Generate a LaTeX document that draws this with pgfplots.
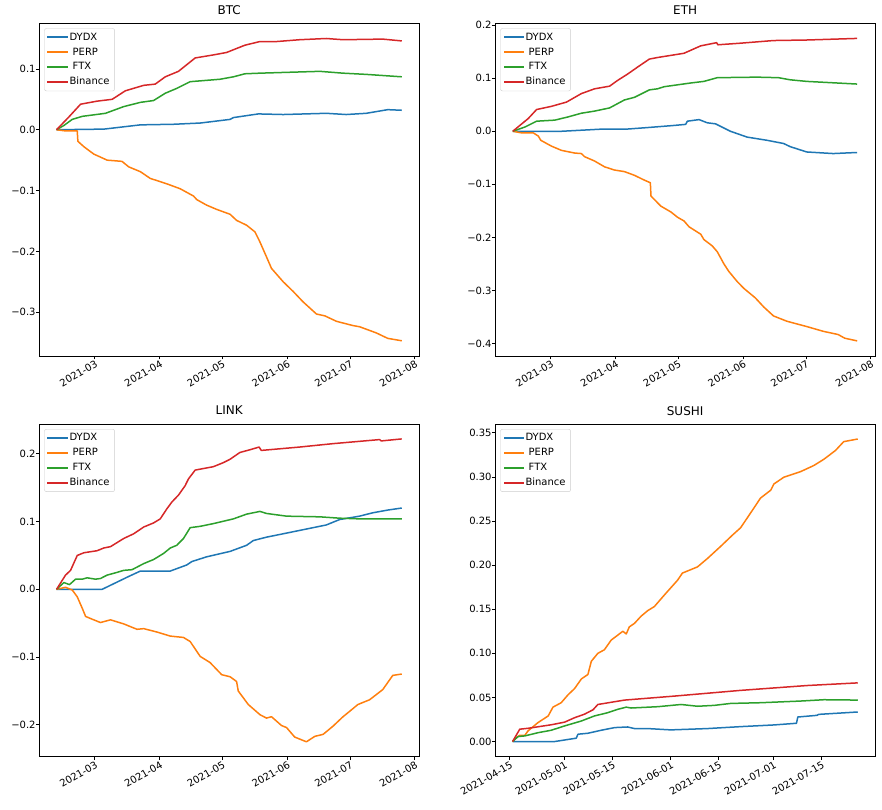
\documentclass[border=0pt]{standalone}
\usepackage{fontspec}
\setmainfont{DejaVu Sans}
\usepackage{pgfplots}
\pgfplotsset{compat=1.18}
\definecolor{c0}{HTML}{1F77B4}
\definecolor{c1}{HTML}{FF7F0E}
\definecolor{c2}{HTML}{2CA02C}
\definecolor{c3}{HTML}{D62728}
\pgfplotsset{legend image code/.code={\fill[#1, draw=none, sharp corners] (0pt,-1pt) rectangle (20pt,1pt);}}
\pgfplotsset{
  panel/.style={
    scale only axis, width=379.7pt, height=332.7pt,
    axis line style={line width=0.8pt},
    tick align=outside, tick pos=left,
    major tick length=3.5pt,
    every tick/.style={black, line width=0.8pt},
    tick label style={font=\fontsize{10}{12}\selectfont},
    xticklabel style={rotate=30, anchor=north east, inner sep=0pt},
    yticklabel style={anchor=east, inner sep=0pt},
    title style={at={(0.5,1)}, anchor=base, yshift=3pt, inner sep=0pt, font=\fontsize{12}{14}\selectfont},
    legend style={at={(0,1)}, anchor=north west, xshift=5pt, yshift=-5pt,
      draw=black!20, rounded corners=2pt, font=\fontsize{10}{12}\selectfont,
      row sep=2pt, inner xsep=3pt, inner ysep=2.5pt, cells={anchor=west}},
    legend cell align=left,
    no markers,
    every axis plot/.append style={line width=1.5pt, line join=round},
  },
  datex/.style={xmin=32.45, xmax=214.05, xtick={59,90,120,151,181,212},
    xticklabels={2021-03,2021-04,2021-05,2021-06,2021-07,2021-08}},
}
\begin{document}
\begin{tikzpicture}
\useasboundingbox (0,0) rectangle (882pt,809pt);
% ---------------- BTC
\begin{axis}[panel, datex, at={(39.3pt,453pt)}, anchor=south west, title={BTC},
  ymin=-0.372, ymax=0.175, ytick={-0.3,-0.2,-0.1,0,0.1},
  yticklabels={−0.3,−0.2,−0.1,0.0,0.1}]
\addplot[c0] coordinates {(40.7,0) (63.3,0.001) (80.8,0.008) (96.7,0.009) (109.4,0.011) (123.7,0.017) (125.3,0.020) (137.2,0.026) (149.1,0.025) (169.7,0.027) (179.2,0.025) (188.8,0.027) (199.1,0.033) (205.8,0.032)};
\addlegendentry{DYDX}
\addplot[c1] coordinates {(40.7,0) (45,-0.002) (50.6,-0.002) (50.9,-0.019) (53.8,-0.028) (58.5,-0.040) (64.9,-0.050) (72,-0.052) (75.2,-0.061) (80.8,-0.069) (85.5,-0.080) (93.5,-0.089) (99.8,-0.097) (106.2,-0.109) (107.8,-0.115) (112.5,-0.124) (117.3,-0.131) (123.7,-0.139) (126.8,-0.149) (131.6,-0.157) (135.6,-0.168) (137.9,-0.184) (141.1,-0.209) (143.5,-0.228) (149.1,-0.250) (153.9,-0.266) (158.6,-0.283) (165,-0.303) (169,-0.306) (174.6,-0.315) (182.5,-0.322) (185.7,-0.324) (193.6,-0.334) (199.1,-0.343) (205.8,-0.347)};
\addlegendentry{\ PERP}
\addplot[c2] coordinates {(40.7,0) (44.2,0.007) (48.2,0.017) (53,0.022) (64.1,0.027) (72.8,0.038) (80.8,0.045) (87.1,0.048) (92.7,0.060) (98.2,0.068) (104.6,0.079) (118.9,0.083) (125.3,0.087) (130.8,0.092) (138,0.093) (157,0.095) (166.6,0.096) (177.7,0.093) (188.8,0.091) (205.8,0.087)};
\addlegendentry{\ FTX}
\addplot[c3] coordinates {(40.7,0) (46.6,0.021) (52.2,0.042) (60.1,0.047) (67.3,0.050) (73.6,0.064) (82.4,0.073) (87.9,0.075) (92.7,0.087) (99,0.096) (107,0.118) (115.7,0.123) (122,0.127) (130.8,0.139) (138,0.145) (146,0.145) (157,0.148) (169.7,0.150) (177.7,0.148) (196.7,0.149) (205.8,0.146)};
\addlegendentry{Binance}
\end{axis}
% ---------------- ETH
\begin{axis}[panel, datex, at={(495.3pt,453pt)}, anchor=south west, title={ETH},
  ymin=-0.4235, ymax=0.2035, ytick={-0.4,-0.3,-0.2,-0.1,0,0.1,0.2},
  yticklabels={−0.4,−0.3,−0.2,−0.1,0.0,0.1,0.2}]
\addplot[c0] coordinates {(40.8,0) (64.1,0.000) (83.1,0.004) (95,0.004) (105.3,0.007) (118,0.011) (123.5,0.013) (124.3,0.019) (129.9,0.022) (133.8,0.016) (137.8,0.014) (144.9,0.000) (152.9,-0.011) (162.4,-0.017) (170.3,-0.023) (173.5,-0.029) (181.4,-0.039) (194.1,-0.042) (199.6,-0.041) (205.5,-0.040)};
\addlegendentry{DYDX}
\addplot[c1] coordinates {(40.8,0) (45,-0.003) (50.6,-0.003) (53,-0.009) (54.2,-0.017) (59.3,-0.028) (64.1,-0.036) (70.4,-0.041) (73.6,-0.042) (75.2,-0.048) (79.9,-0.056) (84.7,-0.067) (89.4,-0.073) (94.2,-0.076) (99,-0.083) (103.7,-0.092) (106.6,-0.097) (106.9,-0.122) (111.6,-0.141) (116.4,-0.152) (119.6,-0.162) (122.7,-0.169) (125.1,-0.180) (130.7,-0.194) (132.2,-0.204) (136.2,-0.216) (138.6,-0.227) (141.8,-0.250) (144.1,-0.264) (148.1,-0.283) (151.3,-0.296) (156.8,-0.314) (160.8,-0.331) (165.5,-0.348) (171.9,-0.358) (181.4,-0.368) (189.3,-0.377) (196.4,-0.383) (199.6,-0.390) (205.5,-0.395)};
\addlegendentry{\ PERP}
\addplot[c2] coordinates {(40.8,0) (46.6,0.008) (52.2,0.019) (60.9,0.021) (67.2,0.027) (73.6,0.034) (79.9,0.038) (87.1,0.044) (94.2,0.059) (99,0.064) (106.1,0.078) (110,0.080) (113.2,0.084) (125.9,0.091) (132.2,0.094) (138.6,0.101) (157.6,0.102) (167.9,0.101) (173.5,0.097) (181.4,0.094) (205.5,0.089)};
\addlegendentry{\ FTX}
\addplot[c3] coordinates {(40.8,0) (45.1,0.014) (48.2,0.024) (52.2,0.041) (59.3,0.047) (66.5,0.055) (73.6,0.071) (79.9,0.080) (87.1,0.085) (91,0.096) (95.8,0.108) (100.5,0.121) (106.1,0.136) (110,0.139) (122.7,0.147) (130.7,0.161) (138.3,0.167) (138.9,0.163) (149.7,0.166) (165.5,0.171) (181.4,0.172) (205.5,0.175)};
\addlegendentry{Binance}
\end{axis}
% ---------------- LINK
\begin{axis}[panel, datex, at={(39.3pt,52.3pt)}, anchor=south west, title={LINK},
  ymin=-0.247, ymax=0.244, ytick={-0.2,-0.1,0,0.1,0.2},
  yticklabels={−0.2,−0.1,0.0,0.1,0.2}]
\addplot[c0] coordinates {(40.7,0) (62.5,0) (66.5,0.006) (75.2,0.019) (80.8,0.027) (95.1,0.027) (103,0.036) (105.4,0.041) (112.5,0.048) (123.7,0.056) (131.6,0.065) (134.8,0.072) (141.1,0.077) (150.7,0.083) (169.7,0.095) (176.1,0.103) (185.6,0.108) (192,0.113) (199.1,0.117) (205.8,0.120)};
\addlegendentry{DYDX}
\addplot[c1] coordinates {(40.7,0) (45,0.003) (48.2,-0.001) (50.6,-0.011) (53,-0.028) (54.6,-0.040) (56.9,-0.043) (61.7,-0.049) (66.5,-0.045) (72.8,-0.051) (79.2,-0.059) (82.4,-0.058) (88.7,-0.063) (95.1,-0.069) (101.4,-0.071) (104.6,-0.077) (109.4,-0.099) (114.1,-0.108) (119.7,-0.126) (123.7,-0.129) (126.8,-0.136) (127.6,-0.150) (132.4,-0.170) (138,-0.185) (141.1,-0.190) (143.5,-0.188) (148.3,-0.201) (150.7,-0.204) (154.6,-0.218) (160.2,-0.225) (164.2,-0.217) (168.2,-0.214) (172.9,-0.202) (177.7,-0.188) (180.9,-0.180) (184.8,-0.170) (190.4,-0.163) (196.7,-0.148) (201.5,-0.127) (205.8,-0.125)};
\addlegendentry{\ PERP}
\addplot[c2] coordinates {(40.7,0) (44.2,0.010) (46.9,0.007) (49.8,0.015) (53,0.015) (55.3,0.017) (59.3,0.015) (61.7,0.016) (64.9,0.021) (69.6,0.025) (72.8,0.028) (76.8,0.029) (82.4,0.038) (87.1,0.044) (91.9,0.053) (95.1,0.061) (98.2,0.065) (101.4,0.075) (104.6,0.091) (109.4,0.093) (115.7,0.097) (125.3,0.104) (131.6,0.111) (138,0.115) (141.1,0.112) (150.7,0.108) (166.6,0.107) (176.1,0.105) (185.6,0.104) (205.8,0.104)};
\addlegendentry{\ FTX}
\addplot[c3] coordinates {(40.7,0) (45,0.021) (47.4,0.028) (50.6,0.050) (53.8,0.054) (60.1,0.057) (63.3,0.061) (66.5,0.063) (72.8,0.075) (77.6,0.082) (82.4,0.092) (87.1,0.098) (90.3,0.104) (93.5,0.119) (95.9,0.129) (99,0.139) (102.2,0.153) (103.8,0.163) (107,0.176) (115.7,0.181) (120.5,0.187) (123.7,0.192) (128.4,0.202) (133.2,0.206) (137.6,0.210) (138.6,0.205) (157,0.210) (172.9,0.215) (195.2,0.221) (196,0.219) (205.8,0.222)};
\addlegendentry{Binance}
\end{axis}
% ---------------- SUSHI
\begin{axis}[panel, at={(495.3pt,52.3pt)}, anchor=south west, title={SUSHI},
  xmin=99.76, xmax=210.64, xtick={104,120,134,151,165,181,195},
  xticklabels={2021-04-15,2021-05-01,2021-05-15,2021-06-01,2021-06-15,2021-07-01,2021-07-15},
  ymin=-0.0172, ymax=0.360, ytick={0,0.05,0.1,0.15,0.2,0.25,0.3,0.35},
  yticklabels={0.00,0.05,0.10,0.15,0.20,0.25,0.30,0.35}]
\addplot[c0] coordinates {(104.8,0) (117.1,0) (123.4,0.0038) (123.9,0.0083) (126.8,0.0094) (130.7,0.0128) (134.6,0.0158) (138.4,0.0165) (140.4,0.0147) (144.3,0.0147) (151,0.0132) (161.7,0.0147) (171.4,0.0169) (181.1,0.0188) (187.7,0.0207) (188.1,0.0278) (193.7,0.0297) (194.2,0.0308) (205.6,0.0335)};
\addlegendentry{DYDX}
\addplot[c1] coordinates {(104.8,0) (105.9,0.0045) (106.9,0.0071) (108.4,0.0071) (109.3,0.012) (112.2,0.0214) (115.2,0.029) (116.6,0.039) (119,0.044) (121,0.053) (122.9,0.060) (124.9,0.071) (126.8,0.076) (127.8,0.091) (129.7,0.100) (131.6,0.104) (133.6,0.115) (137,0.125) (138,0.122) (138.9,0.130) (140.4,0.134) (142.3,0.142) (144.3,0.1485) (146.2,0.153) (149.1,0.166) (153,0.183) (154.4,0.191) (158.8,0.198) (161.7,0.2075) (165.6,0.2214) (169,0.234) (171.4,0.2424) (174.8,0.262) (177.2,0.276) (180.2,0.285) (181.1,0.292) (184,0.2996) (188.9,0.306) (192.8,0.313) (195.7,0.320) (199.1,0.330) (201.5,0.340) (205.6,0.343)};
\addlegendentry{\ PERP}
\addplot[c2] coordinates {(104.8,0) (106.4,0.0056) (108.4,0.0064) (112.2,0.010) (116.1,0.0128) (120,0.0177) (124.9,0.0233) (128.7,0.029) (132.6,0.0327) (135.5,0.0365) (138,0.039) (139.4,0.038) (147.2,0.0395) (154,0.042) (158.8,0.040) (163.7,0.041) (168.5,0.0432) (177.2,0.044) (188.9,0.0459) (195.7,0.0474) (205.6,0.047)};
\addlegendentry{\ FTX}
\addplot[c3] coordinates {(104.8,0) (106.9,0.014) (109.3,0.015) (116.1,0.019) (120,0.022) (122.9,0.027) (125.8,0.031) (128.3,0.036) (129.7,0.042) (137.5,0.047) (152,0.0515) (171.4,0.058) (190.8,0.0635) (205.6,0.0665)};
\addlegendentry{Binance}
\end{axis}
\end{tikzpicture}
\end{document}
